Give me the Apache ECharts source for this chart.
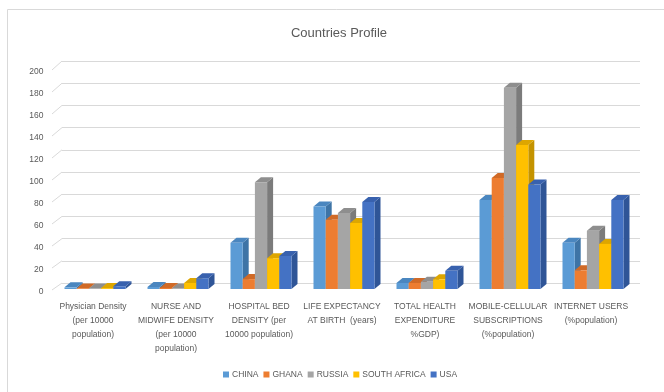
<!DOCTYPE html>
<html>
<head>
<meta charset="utf-8">
<script src="https://cdn.jsdelivr.net/npm/echarts@6/dist/echarts.min.js"></script>
<style>
  html, body { margin: 0; padding: 0; background: #fff; }
  #chart { width: 664px; height: 392px; }
</style>
</head>
<body>
<div id="chart"></div>
<script>
// categories (x axis labels)
const categories = [
  "Physician Density\n(per 10000\npopulation)",
  "NURSE AND\nMIDWIFE DENSITY\n(per 10000\npopulation)",
  "HOSPITAL BED\nDENSITY (per\n10000 population)",
  "LIFE EXPECTANCY\nAT BIRTH  (years)",
  "TOTAL HEALTH\nEXPENDITURE\n%GDP)",
  "MOBILE-CELLULAR\nSUBSCRIPTIONS\n(%population)",
  "INTERNET USERS\n(%population)"
];

const countries = ["CHINA", "GHANA", "RUSSIA", "SOUTH AFRICA", "USA"];

// values
const china = [1.5, 1.8, 42, 75, 5.5, 81, 42];
const ghana = [0.1, 1.0, 9, 63, 5.5, 101, 17];
const russia = [0.4, 0.5, 97, 69, 6.5, 183, 53];
const southAfrica = [0.8, 5.5, 28, 60, 8.8, 131, 41];
const usa = [2.5, 9.8, 30, 79, 16.5, 95, 81];

const yTicks = [0, 20, 40, 60, 80, 100, 120, 140, 160, 180, 200];

const seriesValues = [china, ghana, russia, southAfrica, usa];
const colors = ["#5B9BD5", "#ED7D31", "#A5A5A5", "#FFC000", "#4472C4"];
const sideColors = ["#3E74A6", "#B85E22", "#7B7B7B", "#C49300", "#2F5597"];
const topColors = ["#4A86BF", "#D06A27", "#8E8E8E", "#DDA600", "#3861AE"];

const chart = echarts.init(document.getElementById("chart"));

const BAR_W = 12.2;
const DX = 6;
const DY = 5;

function renderBar(params, api) {
  const cat = api.value(0);
  const val = api.value(1);
  const base = api.coord([cat, 0]);
  const top = api.coord([cat, val]);
  const i = params.seriesIndex - 1;
  const groupW = BAR_W * countries.length + DX;
  const x = base[0] - groupW / 2 + i * BAR_W;
  const w = BAR_W;
  const yb = base[1];
  const yt = Math.min(top[1], yb - 0.6);
  return {
    type: "group",
    children: [
      {
        type: "polygon",
        shape: { points: [[x + w, yt], [x + w + DX, yt - DY], [x + w + DX, yb - DY], [x + w, yb]] },
        style: { fill: sideColors[i] }
      },
      {
        type: "polygon",
        shape: { points: [[x, yt], [x + DX, yt - DY], [x + w + DX, yt - DY], [x + w, yt]] },
        style: { fill: topColors[i] }
      },
      {
        type: "rect",
        shape: { x: x, y: yt, width: w, height: yb - yt },
        style: { fill: colors[i] }
      }
    ]
  };
}

// short slanted lines of the left wall, one per tick
function renderWall(params, api) {
  const v = api.value(1);
  const p = api.coord([0, v]);
  const left = p[0] - api.size([1, 0])[0] / 2;
  const dy = 6 + 2 * v / 200;
  return {
    type: "line",
    shape: { x1: left - 4.5, y1: p[1] + 1, x2: left + 5.5, y2: p[1] - dy },
    style: { stroke: "#d9d9d9", lineWidth: 1 }
  };
}

const series = [{
  type: "custom",
  xAxisIndex: 1,
  yAxisIndex: 1,
  silent: true,
  renderItem: renderWall,
  data: yTicks.map(t => [0, t])
}].concat(countries.map((name, i) => ({
  name: name,
  type: "custom",
  xAxisIndex: 1,
  yAxisIndex: 1,
  itemStyle: { color: colors[i] },
  renderItem: renderBar,
  data: seriesValues[i].map((v, c) => [c, v])
})));

const labelFont = "Liberation Sans";

chart.setOption({
  animation: false,
  textStyle: { fontFamily: labelFont },
  graphic: [{
    type: "rect",
    shape: { x: 7.5, y: 9.5, width: 700, height: 420 },
    style: { fill: "none", stroke: "#d9d9d9", lineWidth: 1 },
    silent: true
  }],
  title: {
    text: "Countries Profile",
    left: 334,
    textAlign: "center",
    top: 22,
    textStyle: { fontSize: 13, fontWeight: "normal", color: "#595959", fontFamily: labelFont }
  },
  legend: {
    data: countries,
    bottom: 8,
    left: 218,
    itemWidth: 6,
    itemHeight: 6,
    itemGap: 5,
    icon: "rect",
    textStyle: { fontSize: 8.5, color: "#595959", padding: [0, 0, 0, -2] }
  },
  grid: [
    // back wall grid lines
    { left: 62, right: 24, top: 61, bottom: 109 },
    // front plane for bars and labels
    { left: 56.5, right: 26.5, top: 69, bottom: 103 }
  ],
  xAxis: [
    { gridIndex: 0, type: "category", data: categories, show: false },
    {
      gridIndex: 1,
      type: "category",
      data: categories,
      axisLine: { show: false },
      axisTick: { show: false },
      axisLabel: {
        interval: 0,
        fontSize: 8.5,
        color: "#595959",
        lineHeight: 14,
        margin: 11,
        padding: [0, 10, 0, 0]
      }
    }
  ],
  yAxis: [
    {
      gridIndex: 0,
      type: "value",
      min: 0,
      max: 200,
      interval: 20,
      axisLabel: { show: false },
      axisLine: { show: false },
      axisTick: { show: false },
      splitLine: { lineStyle: { color: "#d9d9d9", width: 1 } }
    },
    {
      gridIndex: 1,
      type: "value",
      min: yTicks[0],
      max: yTicks[yTicks.length - 1],
      interval: 20,
      axisLine: { show: false },
      axisTick: { show: false },
      splitLine: { show: false },
      axisLabel: { fontSize: 8.5, color: "#595959", margin: 13, verticalAlign: "top", lineHeight: 6 }
    }
  ],
  series: series
});
</script>
</body>
</html>
